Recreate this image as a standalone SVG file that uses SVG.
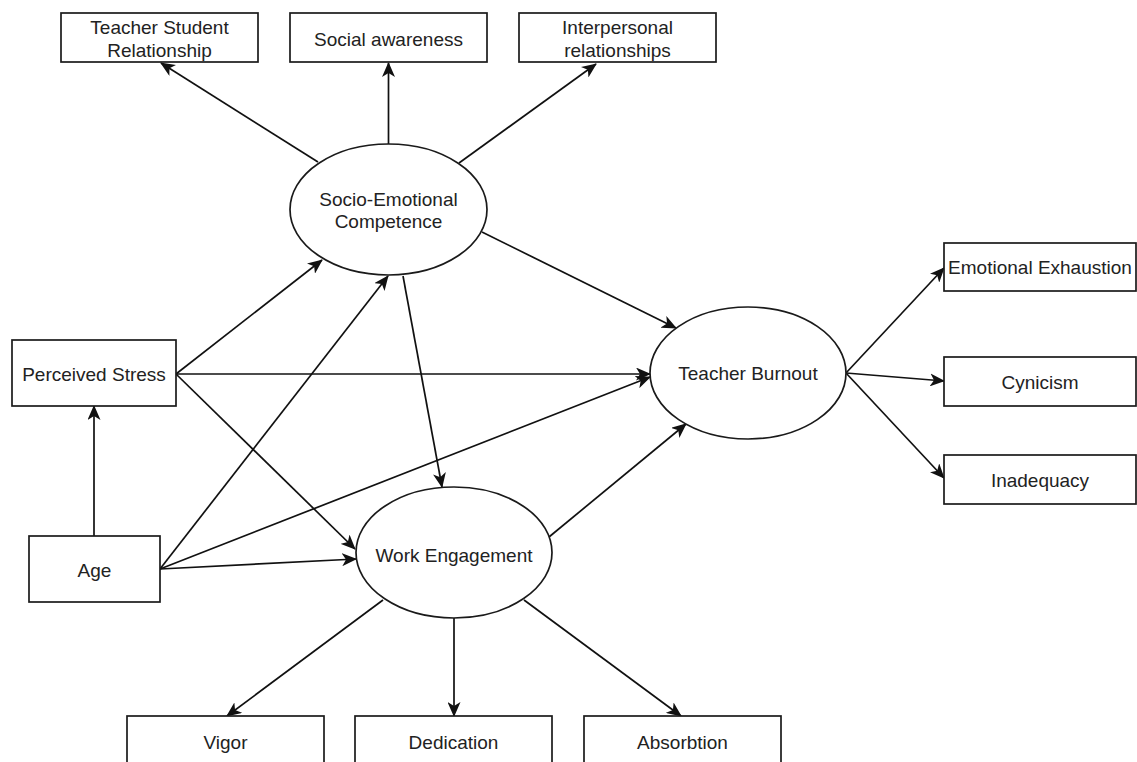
<svg xmlns="http://www.w3.org/2000/svg" width="1137" height="762" viewBox="0 0 1137 762">
<style>
.box{fill:#fff;stroke:#1a1a1a;stroke-width:1.7}
.ell{fill:#fff;stroke:#1a1a1a;stroke-width:1.7}
.t{font-family:"Liberation Sans",Arial,sans-serif;font-size:19px;fill:#222;text-anchor:middle;dominant-baseline:central}
.c{fill:none;stroke:#111;stroke-width:1.7;marker-end:url(#ah)}
</style>
<defs>
<marker id="ah" viewBox="0 0 15 13" refX="14" refY="6.5" markerWidth="15" markerHeight="13" markerUnits="userSpaceOnUse" orient="auto">
<path d="M0,0 L15,6.5 L0,13 L4,6.5 Z" fill="#111"/>
</marker>
</defs>
<rect width="1137" height="762" fill="#fff"/>
<g id="connectors">
<line class="c" x1="318" y1="162" x2="161" y2="63"/>
<line class="c" x1="388.5" y1="144" x2="388.5" y2="63"/>
<line class="c" x1="459" y1="163" x2="596" y2="64"/>
<line class="c" x1="482" y1="232" x2="676" y2="328"/>
<line class="c" x1="176" y1="374" x2="322" y2="260"/>
<line class="c" x1="160" y1="569" x2="388" y2="276"/>
<line class="c" x1="403" y1="276" x2="442" y2="487"/>
<line class="c" x1="176" y1="374" x2="650" y2="374"/>
<line class="c" x1="176" y1="374" x2="355" y2="549"/>
<line class="c" x1="94" y1="536" x2="94" y2="406"/>
<line class="c" x1="160" y1="569" x2="650" y2="377"/>
<line class="c" x1="160" y1="569" x2="356" y2="559"/>
<line class="c" x1="549" y1="537" x2="686" y2="424"/>
<line class="c" x1="846" y1="373" x2="944" y2="268"/>
<line class="c" x1="846" y1="373" x2="944" y2="381"/>
<line class="c" x1="846" y1="373" x2="944" y2="478"/>
<line class="c" x1="383" y1="600" x2="227" y2="716"/>
<line class="c" x1="454" y1="618" x2="454" y2="716"/>
<line class="c" x1="524" y1="600" x2="681" y2="716"/>
</g>
<g id="tsr"><rect class="box" x="61" y="13" width="197" height="49"/><text class="t" x="159.5" y="27">Teacher Student</text><text class="t" x="159.5" y="50">Relationship</text></g>
<g id="sa"><rect class="box" x="290" y="13" width="197" height="49"/><text class="t" x="388.5" y="39">Social awareness</text></g>
<g id="ir"><rect class="box" x="519" y="13" width="197" height="49"/><text class="t" x="617.5" y="27">Interpersonal</text><text class="t" x="617.5" y="50">relationships</text></g>
<g id="sec"><ellipse class="ell" cx="388.5" cy="209.5" rx="98.5" ry="65.5"/><text class="t" x="388.5" y="199">Socio-Emotional</text><text class="t" x="388.5" y="221">Competence</text></g>
<g id="ps"><rect class="box" x="12" y="340" width="164" height="66"/><text class="t" x="94" y="374">Perceived Stress</text></g>
<g id="age"><rect class="box" x="29" y="536" width="131" height="66"/><text class="t" x="94.5" y="570">Age</text></g>
<g id="tb"><ellipse class="ell" cx="748" cy="373" rx="98" ry="66"/><text class="t" x="748" y="373">Teacher Burnout</text></g>
<g id="we"><ellipse class="ell" cx="454" cy="552.5" rx="98" ry="65.5"/><text class="t" x="454" y="555">Work Engagement</text></g>
<g id="ee"><rect class="box" x="944" y="243" width="192" height="48"/><text class="t" x="1040" y="267">Emotional Exhaustion</text></g>
<g id="cyn"><rect class="box" x="944" y="357" width="192" height="49"/><text class="t" x="1040" y="382">Cynicism</text></g>
<g id="inad"><rect class="box" x="944" y="455" width="192" height="49"/><text class="t" x="1040" y="480">Inadequacy</text></g>
<g id="vigor"><rect class="box" x="127" y="716" width="197" height="49"/><text class="t" x="225.5" y="742">Vigor</text></g>
<g id="ded"><rect class="box" x="355" y="716" width="197" height="49"/><text class="t" x="453.5" y="742">Dedication</text></g>
<g id="abs"><rect class="box" x="584" y="716" width="197" height="49"/><text class="t" x="682.5" y="742">Absorbtion</text></g>
</svg>
